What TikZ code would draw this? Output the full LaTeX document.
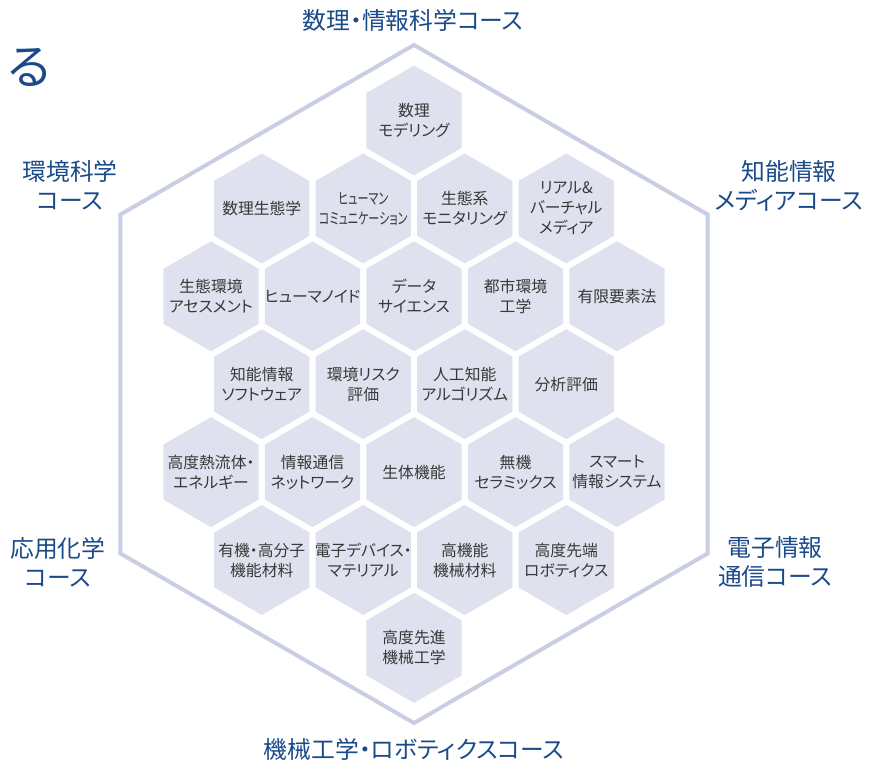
\documentclass[tikz,border=0pt]{standalone}
\usepackage{fontspec}
\setmainfont{Noto Sans CJK JP}[RawFeature=+palt]
\usetikzlibrary{shapes.geometric}
\definecolor{cellfill}{HTML}{DFE2EE}
\definecolor{frameline}{HTML}{C9CEE3}
\definecolor{coursetext}{HTML}{1B4A8A}
\definecolor{celltext}{HTML}{383838}
\tikzset{
  hexcell/.style={regular polygon,regular polygon sides=6,shape border rotate=30,
    minimum size=110pt,inner sep=0pt,fill=cellfill},
  cellname/.style={align=center,text=celltext,font=\fontsize{15.8}{20}\selectfont},
  course/.style={align=center,text=coursetext,font=\fontsize{23.8}{29}\selectfont}
}

\begin{document}
\begin{tikzpicture}[x=1pt,y=-1pt]
\useasboundingbox (0,0) rectangle (876,763);

% outer frame
\node[regular polygon,regular polygon sides=6,shape border rotate=30,
  minimum size=678pt,inner sep=0pt,draw=frameline,line width=4pt] (frame) at (414,384) {};

% heading (cut off)
\node[text=coursetext,font=\fontsize{48}{48}\selectfont] (head) at (29,67) {る};

% courses
\node[course] (K1) at (413,20) {数理・情報科学コース};
\node[course] (K2) at (70,185) {環境科学\\コース};
\node[course] (K3) at (789,186) {知能情報\\メディアコース};
\node[course] (K4) at (58,562) {応用化学\\コース};
\node[course] (K5) at (775,562) {電子情報\\通信コース};
\node[course] (K6) at (414,749) {機械工学・ロボティクスコース};

% cells
\begin{scope}[every node/.style={hexcell}]
\node[label={[cellname]center:{数理\\モデリング}}] (A1) at (414,120.5) {};

\node[label={[cellname]center:{数理生態学}}] (B1) at (261.75,208.4) {};
\node[label={[cellname]center:{\scalebox{0.7}[1]{ヒューマン}\\\scalebox{0.7}[1]{コミュニケーション}}}] (B2) at (363.25,208.4) {};
\node[label={[cellname]center:{生態系\\モニタリング}}] (B3) at (464.75,208.4) {};
\node[label={[cellname]center:{リアル\&\\バーチャル\\メディア}}] (B4) at (566.25,208.4) {};

\node[label={[cellname]center:{生態環境\\アセスメント}}] (C1) at (211,296.3) {};
\node[label={[cellname]center:{ヒューマノイド}}] (C2) at (312.5,296.3) {};
\node[label={[cellname]center:{データ\\サイエンス}}] (C3) at (414,296.3) {};
\node[label={[cellname]center:{都市環境\\工学}}] (C4) at (515.5,296.3) {};
\node[label={[cellname]center:{有限要素法}}] (C5) at (617,296.3) {};

\node[label={[cellname]center:{知能情報\\ソフトウェア}}] (D1) at (261.75,384.2) {};
\node[label={[cellname]center:{環境リスク\\評価}}] (D2) at (363.25,384.2) {};
\node[label={[cellname]center:{人工知能\\アルゴリズム}}] (D3) at (464.75,384.2) {};
\node[label={[cellname]center:{分析評価}}] (D4) at (566.25,384.2) {};

\node[label={[cellname]center:{高度熱流体・\\エネルギー}}] (E1) at (211,472.1) {};
\node[label={[cellname]center:{情報通信\\ネットワーク}}] (E2) at (312.5,472.1) {};
\node[label={[cellname]center:{生体機能}}] (E3) at (414,472.1) {};
\node[label={[cellname]center:{無機\\セラミックス}}] (E4) at (515.5,472.1) {};
\node[label={[cellname]center:{スマート\\情報システム}}] (E5) at (617,472.1) {};

\node[label={[cellname]center:{有機・高分子\\機能材料}}] (F1) at (261.75,560) {};
\node[label={[cellname]center:{電子デバイス・\\マテリアル}}] (F2) at (363.25,560) {};
\node[label={[cellname]center:{高機能\\機械材料}}] (F3) at (464.75,560) {};
\node[label={[cellname]center:{高度先端\\ロボティクス}}] (F4) at (566.25,560) {};

\node[label={[cellname]center:{高度先進\\機械工学}}] (G1) at (414,647.9) {};
\end{scope}
\end{tikzpicture}
\end{document}
